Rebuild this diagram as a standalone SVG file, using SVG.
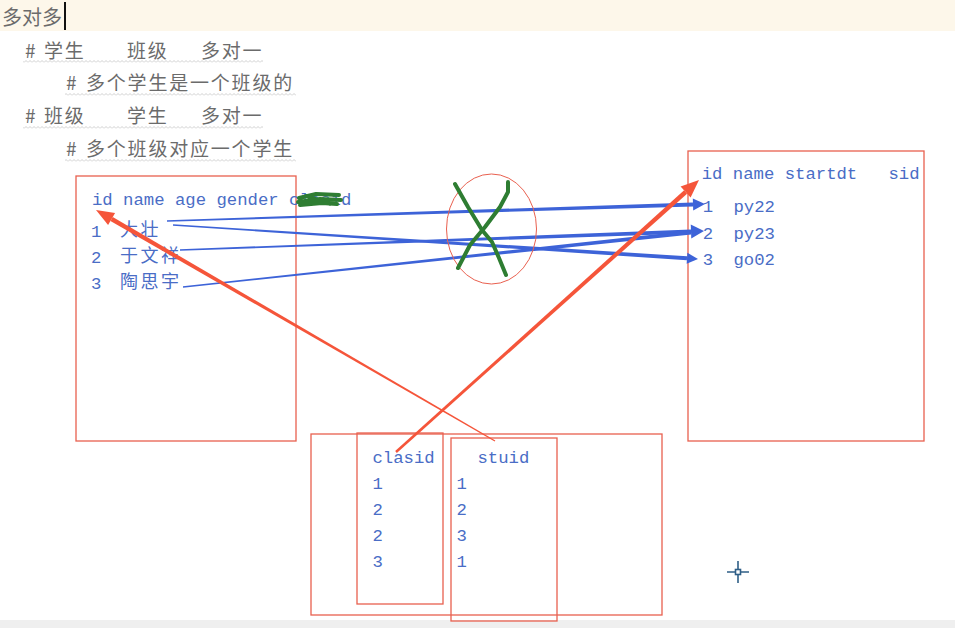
<svg xmlns="http://www.w3.org/2000/svg" width="955" height="628" viewBox="0 0 955 628">
<style>
.note{font-family:"Noto Sans CJK SC","Noto Sans",sans-serif;font-size:19px;fill:#6b6b6b;letter-spacing:1.8px}
.mono{font-family:"Liberation Mono","DejaVu Sans Mono",monospace;font-size:17.3px;fill:#4a6dc6}
.cjk{font-family:"Noto Sans CJK SC","Noto Sans",sans-serif;font-size:18px;fill:#4a6dc6;letter-spacing:2.5px}
.box{fill:none;stroke:#e9604f;stroke-width:1.3}
.blue{fill:#3d63d8}
.red{fill:#f5553a}
.grn{fill:none;stroke:#2e7d32;stroke-width:4;stroke-linecap:round;stroke-linejoin:round}
</style>
<defs>
<pattern id="wave" width="4" height="3" patternUnits="userSpaceOnUse">
<path d="M0,2.5 L2,0.5 L4,2.5" fill="none" stroke="#c4c4c4" stroke-width="0.8"/>
</pattern>
</defs>
<rect x="0" y="0" width="955" height="628" fill="#ffffff"/>
<rect x="0" y="0" width="955" height="31" fill="#fdf7ea"/>
<rect x="0" y="620" width="955" height="8" fill="#efefef"/>

<g id="title">
<text x="2" y="25" style="font-family:'Noto Sans CJK SC',sans-serif;font-size:20px;fill:#6b6b6b">多对多</text>
<rect x="64" y="2" width="2" height="28" fill="#111"/>
</g>

<g id="notes">
<text class="note" y="58"><tspan x="25">#</tspan><tspan x="44">学生</tspan><tspan x="127">班级</tspan><tspan x="201">多对一</tspan></text>
<rect x="23" y="60" width="240" height="3" fill="url(#wave)"/>
<text class="note" y="90"><tspan x="66">#</tspan><tspan x="86">多个学生是一个班级的</tspan></text>
<rect x="65" y="93" width="231" height="3" fill="url(#wave)"/>
<text class="note" y="123"><tspan x="25">#</tspan><tspan x="44">班级</tspan><tspan x="127">学生</tspan><tspan x="201">多对一</tspan></text>
<rect x="23" y="126" width="240" height="3" fill="url(#wave)"/>
<text class="note" y="156"><tspan x="66">#</tspan><tspan x="86">多个班级对应一个学生</tspan></text>
<rect x="65" y="159" width="231" height="3" fill="url(#wave)"/>
</g>

<g id="student-table">
<rect class="box" x="76" y="176" width="220" height="265"/>
<text class="mono" x="92" y="205">id name age gender clasid</text>
<path class="grn" d="M299,198 L316,194 L339,195 M298,202 L320,199 L341,200 M300,205 L322,203 L337,204 M306,196 L330,204" stroke-width="4.5"/>
<text class="mono" x="91" y="237">1</text>
<text class="cjk" x="120" y="236">大壮</text>
<text class="mono" x="91" y="263">2</text>
<text class="cjk" x="120" y="262">于文祥</text>
<text class="mono" x="91" y="289">3</text>
<text class="cjk" x="120" y="288">陶思宇</text>
</g>

<g id="class-table">
<rect class="box" x="688" y="151" width="236" height="290"/>
<text class="mono" y="179"><tspan x="701.7">id name startdt</tspan><tspan x="888.5">sid</tspan></text>
<text class="mono" x="702.7" y="212">1</text>
<text class="mono" x="733.5" y="212">py22</text>
<text class="mono" x="702.7" y="238.5">2</text>
<text class="mono" x="733.5" y="238.5">py23</text>
<text class="mono" x="702.7" y="264.5">3</text>
<text class="mono" x="733.5" y="264.5">go02</text>
</g>

<g id="link-table">
<rect class="box" x="311" y="434" width="351" height="181"/>
<rect class="box" x="357" y="433" width="86" height="171"/>
<rect class="box" x="451" y="438" width="106" height="183"/>
<text class="mono" x="372.5" y="462.5">clasid</text>
<text class="mono" x="477.5" y="462.5">stuid</text>
<text class="mono" x="372.5" y="488.5">1</text>
<text class="mono" x="372.5" y="514.5">2</text>
<text class="mono" x="372.5" y="540.5">2</text>
<text class="mono" x="372.5" y="566.5">3</text>
<text class="mono" x="456.5" y="488.5">1</text>
<text class="mono" x="456.5" y="514.5">2</text>
<text class="mono" x="456.5" y="540.5">3</text>
<text class="mono" x="456.5" y="566.5">1</text>
</g>

<g id="connectors">
<g id="blue-1-py22">
<polygon class="blue" points="167.02,221.75 693.07,206.38 692.95,202.38 166.98,220.25"/>
<polygon class="blue" points="705,204 693.20,210.38 692.82,198.38"/>
</g>
<g id="blue-1-go02">
<polygon class="blue" points="172.95,225.75 686.89,260.29 687.15,256.29 173.05,224.25"/>
<polygon class="blue" points="698,259 686.66,263.78 687.38,252.80"/>
</g>
<g id="blue-2-py23">
<polygon class="blue" points="180.03,250.75 691.08,233.47 690.94,229.47 179.97,249.25"/>
<polygon class="blue" points="704,231 691.26,238.47 690.76,224.47"/>
</g>
<g id="blue-3-py23">
<polygon class="blue" points="183.08,287.75 691.28,234.38 690.86,230.40 182.92,286.25"/>
</g>
</g>

<g id="cross-mark">
<ellipse cx="491.5" cy="229" rx="45" ry="55" fill="none" stroke="#e9604f" stroke-width="1"/>
<path class="grn" d="M455,184 L468,207 L482,230 L492,242 L499,258 L506,275"/>
<path class="grn" d="M508,182 L508,192 L500,207 L485,227 L470,245 L458,268"/>
</g>

<g id="red-connectors">
<g id="red-stuid-id">
<polygon class="red" points="494.70,441.52 110.47,220.95 112.73,217.05 495.30,440.48"/>
<polygon class="red" points="96,210 108.09,225.06 115.11,212.94"/>
</g>
<g id="red-clasid-id">
<polygon class="red" points="396.84,452.93 687.10,193.67 684.10,190.33 395.17,451.07"/>
<polygon class="red" points="699,180 690.61,197.58 680.59,186.42"/>
</g>
</g>

<g id="crosshair" fill="none" stroke="#2f5f87" stroke-width="1.6">
<rect x="735.5" y="569.5" width="5" height="5"/>
<path d="M727,572 H735.5 M740.5,572 H749 M738,561 V569.5 M738,574.5 V583"/>
</g>
</svg>
